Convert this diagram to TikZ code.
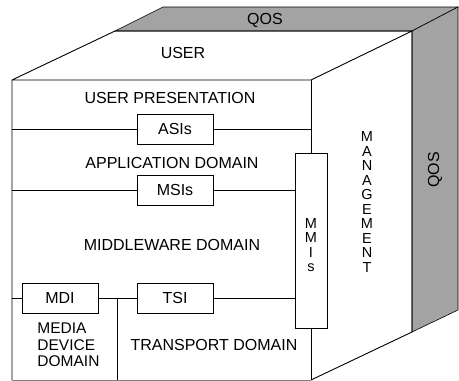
\documentclass[tikz,border=0pt]{standalone}
\usepackage{fontspec}
\setmainfont{Liberation Sans}
\usetikzlibrary{positioning}

\begin{document}
\begin{tikzpicture}[
    x=1pt, y=-1pt,
    line width=0.9pt,
    iface/.style={draw, minimum width=76pt, minimum height=30pt, inner sep=0pt, font=\fontsize{16}{16}\selectfont},
    lbl/.style={inner sep=0pt, font=\fontsize{16}{16}\selectfont},
    stack/.style={inner sep=0pt, align=center, font=\fontsize{14.5}{14.5}\selectfont},
    qos/.style={fill=gray!72, draw=black, line width=0.6pt}
  ]
    \useasboundingbox (0,0) rectangle (459,381);
    % QOS bands on top and right
    \path[qos] (115,31) -- (163,7) -- (458,7) -- (412,31) -- cycle;
    \path[qos] (412,31) -- (458,7) -- (458,310) -- (412,332) -- cycle;
    % interface boxes
    \node[iface] (asis) at (175,129) {ASIs};
    \node[iface] (msis) at (175,190) {MSIs};
    \node[iface] (mdi) at (60,298) {MDI};
    \node[iface] (tsi) at (175,298) {TSI};
    \node[draw, minimum width=32pt, minimum height=175pt, inner sep=0pt] (mmis) at (311,240.5) {};
    % cube edges
    \coordinate (fl) at (12,80);
    \coordinate (fr) at (311,80);
    \coordinate (bl) at (115,31);
    \coordinate (br) at (412,31);
    \coordinate (dl) at (12,380);
    \coordinate (dr) at (311,380);
    \coordinate (sr) at (412,332);
    \draw (dl) -- (fl) -- (bl) -- (br) -- (fr) -- (fl);
    \draw (fr) -- (mmis.north);
    \draw (mmis.south) -- (dr);
    \draw (br) -- (sr) -- (dr);
    \draw[gray] (dl) -- (dr);
    % layer lines
    \coordinate (a1) at (12,129);
    \coordinate (a2) at (311,129);
    \draw (a1) -- (asis.west);
    \draw (asis.east) -- (a2);
    \coordinate (m1) at (12,190);
    \draw (m1) -- (msis.west);
    \draw (msis.east) -- (mmis.west |- msis.east);
    \coordinate (t1) at (12,298);
    \coordinate (t2) at (117,298);
    \coordinate (t3) at (117,380);
    \draw (t1) -- (mdi.west);
    \draw (mdi.east) -- (tsi.west);
    \draw (tsi.east) -- (mmis.west |- tsi.east);
    \draw (t2) -- (t3);
    % labels
    \node[lbl] (user) at (183,53) {USER};
    \node[lbl] (pres) at (170,98) {USER PRESENTATION};
    \node[lbl] (app) at (172,163) {APPLICATION DOMAIN};
    \node[lbl] (mid) at (172,245) {MIDDLEWARE DOMAIN};
    \node[lbl] (trans) at (214,345) {TRANSPORT DOMAIN};
    \node[lbl, align=left, anchor=west, font=\fontsize{15.5}{16.5}\selectfont] (media) at (37,345) {MEDIA\\DEVICE\\DOMAIN};
    \node[stack] (mmitxt) at (311,245) {M\\M\\I\\s};
    \node[stack] (mgmt) at (367,202) {M\\A\\N\\A\\G\\E\\M\\E\\N\\T};
    \node[lbl] (qostop) at (265,20) {QOS};
    \node[lbl, rotate=90] (qosright) at (435,170) {QOS};
  \end{tikzpicture}
\end{document}
